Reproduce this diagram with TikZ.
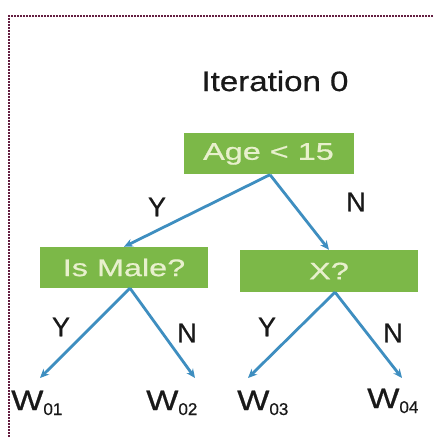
\documentclass[tikz,border=0pt]{standalone}
\usepackage{fontspec}
\usepackage{graphicx}
\setmainfont[FakeBold=0.6]{Liberation Sans}
\usetikzlibrary{arrows.meta}
\definecolor{boxgreen}{RGB}{124,184,72}
\definecolor{boxtext}{RGB}{232,240,205}
\definecolor{arrblue}{RGB}{62,142,192}
\definecolor{framecol}{RGB}{100,30,65}
\definecolor{txtcol}{RGB}{25,25,25}
\newcommand{\sx}[2]{\scalebox{#1}[1]{#2}}
\tikzset{
  decbox/.style={fill=boxgreen, draw=none, text=boxtext, inner sep=0pt, font=\fontsize{24}{26}\selectfont},
  edge/.style={draw=arrblue, line width=2.8pt, -{Stealth[length=9pt,width=8pt]}},
  lab/.style={text=txtcol, inner sep=0pt, font=\fontsize{27}{29}\selectfont},
  leaf/.style={text=txtcol, inner sep=0pt, anchor=base west, font=\fontsize{28}{30}\selectfont},
  frame/.style={draw=framecol, line width=2.4pt, dash pattern=on 2pt off 1pt}
}
\begin{document}
\begin{tikzpicture}[x=1pt,y=-1pt]
\useasboundingbox (0,0) rectangle (433,438);
\fill[white] (0,0) rectangle (433,438);
% frame (clipped)
\coordinate (ftl) at (9,16);
\coordinate (ftr) at (433,16);
\coordinate (fbl) at (9,438);
\draw[frame] (ftr) -- (ftl) -- (fbl);
% title
\node[lab, font=\fontsize{28}{30}\selectfont] (title) at (275,81) {\sx{1.18}{Iteration 0}};
% decision boxes
\node[decbox, minimum width=170pt, minimum height=41pt] (age) at (268.5,154) {\sx{1.35}{Age < 15}};
\node[decbox, minimum width=168pt, minimum height=41pt] (male) at (124,267.5) {\sx{1.35}{Is Male?}};
\node[decbox, minimum width=178pt, minimum height=42pt] (xq) at (329,271) {\sx{1.35}{X?}};
% arrow tips
\coordinate (e1) at (40,378);
\coordinate (e2) at (195,378);
\coordinate (e3) at (248,378);
\coordinate (e4) at (402,378);
% edges
\draw[edge] ([xshift=1.5]age.south) -- (male.north);
\draw[edge] ([xshift=1.5]age.south) -- (xq.north);
\draw[edge] ([xshift=6]male.south) -- (e1);
\draw[edge] ([xshift=6]male.south) -- (e2);
\draw[edge] ([xshift=6]xq.south) -- (e3);
\draw[edge] ([xshift=6]xq.south) -- (e4);
% labels
\node[lab] (y1) at (157,207) {Y};
\node[lab] (n1) at (356,202) {N};
\node[lab] (y2) at (61,327) {Y};
\node[lab] (n2) at (187,333) {N};
\node[lab] (y3) at (267,327) {Y};
\node[lab] (n3) at (393,333) {N};
% leaves
\node[leaf] (w1) at (11,410) {\sx{1.22}{W}\raisebox{-5pt}{\fontsize{17}{18}\selectfont 01}};
\node[leaf] (w2) at (146,410) {\sx{1.22}{W}\raisebox{-5pt}{\fontsize{17}{18}\selectfont 02}};
\node[leaf] (w3) at (237,410) {\sx{1.22}{W}\raisebox{-5pt}{\fontsize{17}{18}\selectfont 03}};
\node[leaf] (w4) at (367,408) {\sx{1.22}{W}\raisebox{-5pt}{\fontsize{17}{18}\selectfont 04}};
\end{tikzpicture}
\end{document}
